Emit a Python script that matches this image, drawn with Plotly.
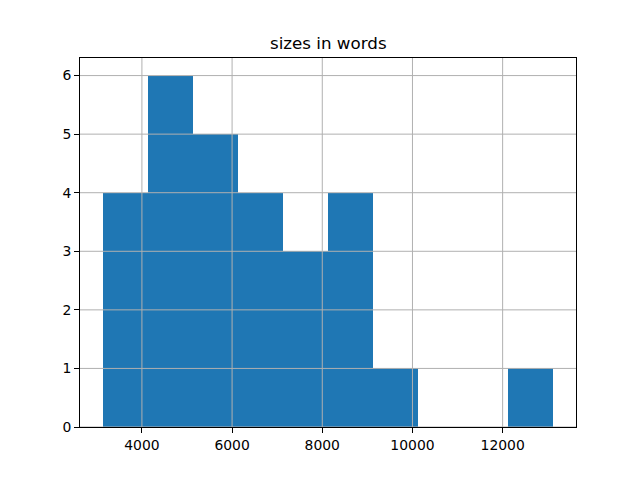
import plotly.graph_objects as go

# histogram bins (words per text)
bin_edges = [3127, 4127, 5127, 6127, 7127, 8127, 9127, 10127, 11127, 12127, 13127]
counts = [4, 6, 5, 4, 3, 4, 1, 0, 0, 1]
x_ticks = [4000, 6000, 8000, 10000, 12000]
x_labels = ["4000", "6000", "8000", "10000", "12000"]
y_ticks = [0, 1, 2, 3, 4, 5, 6]
title = "sizes in words"

lefts = bin_edges[:-1]
widths = [b - a for a, b in zip(bin_edges[:-1], bin_edges[1:])]

span = bin_edges[-1] - bin_edges[0]
x_range = [bin_edges[0] - 0.05 * span, bin_edges[-1] + 0.05 * span]
y_range = [0, max(counts) * 1.05]

fig = go.Figure(go.Bar(
    x=lefts, y=counts, width=widths, offset=0,
    marker=dict(color="#1f77b4", line=dict(width=0)),
    hoverinfo="y",
))

# matplotlib draws its grid on top of the bars
grid = dict(color="#b0b0b0", width=1)
shapes = [dict(type="line", xref="x", yref="paper", x0=v, x1=v, y0=0, y1=1,
               line=grid, layer="above") for v in x_ticks]
shapes += [dict(type="line", xref="paper", yref="y", x0=0, x1=1, y0=v, y1=v,
                line=grid, layer="above") for v in y_ticks]

axis_style = dict(
    showgrid=False, zeroline=False,
    showline=True, mirror=True, linecolor="black", linewidth=1,
    ticks="outside", ticklen=5, tickwidth=1, tickcolor="black",
    tickfont=dict(family="DejaVu Sans", size=13.9, color="black"),
)

# page body has an 8px margin, so the figure is a bit smaller than the window
fig.update_layout(
    width=624, height=464,
    margin=dict(l=72, r=56, t=50, b=45),
    paper_bgcolor="white", plot_bgcolor="white",
    showlegend=False,
    bargap=0,
    shapes=shapes,
    xaxis=dict(range=x_range, tickvals=x_ticks, ticktext=x_labels, **axis_style),
    yaxis=dict(range=y_range, tickvals=y_ticks, **axis_style),
    annotations=[dict(
        text=title, xref="paper", yref="paper", x=0.5, y=1,
        xanchor="center", yanchor="bottom", yshift=3, showarrow=False,
        font=dict(family="DejaVu Sans", size=16.7, color="black"),
    )],
)

fig.write_html("out.html")
